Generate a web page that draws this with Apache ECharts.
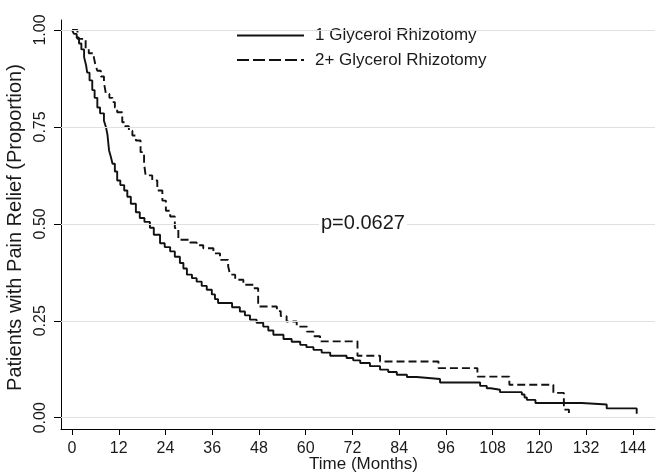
<!DOCTYPE html>
<html><head><meta charset="utf-8">
<script src="https://cdn.jsdelivr.net/npm/echarts@6/dist/echarts.min.js"></script>
<style>html,body{margin:0;padding:0;background:#fff}#c{width:658px;height:473px}</style>
</head><body><div id="c"></div>
<script>
const seriesNames = ['1 Glycerol Rhizotomy', '2+ Glycerol Rhizotomy'];

const months1 = [0,0.5,1.2,1.8,2.4,3.1,3.6,3.9,4.5,5.2,5.8,6.5,7.2,8.2,8.7,9.1,9.3,9.5,10.0,10.4,11.0,11.6,12.4,13.4,14.2,15.1,16.4,17.4,18.6,20.0,21.0,22.6,23.8,25.2,26.4,27.7,28.6,29.5,30.8,32.0,33.3,34.6,35.9,36.7,37.5,41.1,43.1,44.4,45.7,47.4,49.1,50.4,51.7,54.3,56.4,58.6,60.2,62.0,64.1,66.3,70.5,72.2,74.0,76.5,79.1,81.2,83.4,86.0,88.5,94.5,104.8,106.5,107.5,109.9,115.5,116.2,116.8,119.0,130.9,137.3,145];
const relief1 = [1.0,0.99,0.98,0.965,0.95,0.93,0.91,0.89,0.87,0.845,0.825,0.80,0.785,0.766,0.75,0.73,0.71,0.69,0.672,0.655,0.635,0.612,0.60,0.586,0.57,0.552,0.53,0.515,0.505,0.49,0.472,0.45,0.44,0.429,0.415,0.399,0.385,0.369,0.36,0.351,0.34,0.33,0.318,0.306,0.296,0.285,0.274,0.264,0.253,0.245,0.235,0.225,0.214,0.203,0.196,0.188,0.182,0.175,0.168,0.16,0.154,0.148,0.141,0.133,0.124,0.118,0.111,0.105,0.10,0.091,0.082,0.076,0.072,0.066,0.06,0.052,0.046,0.038,0.034,0.024,0.010];

const months2 = [0,1.4,3.5,4.3,5.6,6.0,6.5,7.4,8.2,8.7,9.6,10.4,11.0,11.6,12.9,13.6,14.6,15.5,16.4,17.6,18.5,18.9,20.6,21.9,23.2,24.1,25.2,26.4,27.3,30.3,32.0,33.7,36.3,38.0,40.1,40.6,41.9,44.0,46.6,47.8,52.6,53.6,55.1,57.7,60.3,62.0,63.7,73.3,79.1,94.1,104.1,112.3,123.6,126.3,127.6];
const relief2 = [1.0,0.977,0.951,0.94,0.93,0.91,0.895,0.88,0.865,0.835,0.825,0.814,0.80,0.788,0.762,0.752,0.74,0.728,0.715,0.685,0.655,0.625,0.612,0.586,0.56,0.534,0.519,0.489,0.459,0.452,0.445,0.437,0.424,0.407,0.39,0.369,0.356,0.343,0.334,0.287,0.275,0.262,0.248,0.235,0.222,0.21,0.197,0.16,0.145,0.128,0.106,0.085,0.064,0.021,0];

const xTicks = [0,12,24,36,48,60,72,84,96,108,120,132,144];
const yTicks = [0,0.25,0.5,0.75,1];
const xTitle = 'Time (Months)';
const yTitle = 'Patients with Pain Relief (Proportion)';
const pValueText = 'p=0.0627';

const FONT = "'Liberation Sans', Arial, sans-serif";
const zip = (a, b) => a.map((v, i) => [v, b[i]]);

const chart = echarts.init(document.getElementById('c'), null, {renderer: 'canvas'});
chart.setOption({
  animation: false,
  backgroundColor: '#ffffff',
  textStyle: {fontFamily: FONT},
  grid: {left: 61, right: 3, top: 20, bottom: 44, containLabel: false, outerBoundsMode: 'none'},
  legend: {
    orient: 'vertical', left: 231, top: 22,
    itemWidth: 67, itemHeight: 14, itemGap: 7.5,
    selectedMode: false,
    itemStyle: {opacity: 0},
    textStyle: {fontSize: 17, color: '#1a1a1a', fontFamily: FONT, padding: [0, 0, 0, 6]},
    data: [
      {name: seriesNames[0]},
      {name: seriesNames[1], lineStyle: {type: [12, 4]}}
    ]
  },
  xAxis: {
    type: 'value', min: -2.83, max: 149.7,
    name: xTitle, nameLocation: 'middle', nameGap: 27, nameMoveOverlap: false,
    nameTextStyle: {fontSize: 17, color: '#1a1a1a', fontFamily: FONT, padding: [0, 0, 0, 11]},
    axisLine: {show: true, onZero: false, lineStyle: {color: '#000', width: 1}},
    axisTick: {show: true, customValues: xTicks, length: 6, lineStyle: {color: '#000', width: 1}},
    axisLabel: {customValues: xTicks, fontSize: 16, color: '#1a1a1a', margin: 12, fontFamily: FONT},
    splitLine: {show: false}
  },
  yAxis: {
    type: 'value', min: -0.0291, max: 1.0258,
    name: yTitle, nameLocation: 'middle', nameGap: 32,
    nameTextStyle: {fontSize: 20, color: '#1a1a1a', fontFamily: FONT, padding: [0, 6, 0, 0]},
    axisLine: {show: true, onZero: false, lineStyle: {color: '#000', width: 1}},
    axisTick: {show: true, customValues: yTicks, length: 7, lineStyle: {color: '#000', width: 1}},
    axisLabel: {customValues: yTicks, rotate: 90, fontSize: 16, color: '#1a1a1a', margin: 12, fontFamily: FONT,
      formatter: v => Number(v).toFixed(2)},
    splitLine: {show: false}
  },
  graphic: [{
    type: 'text', left: 319, top: 213, z: 10,
    style: {text: pValueText, fontSize: 20, fill: '#1a1a1a', fontFamily: FONT,
      backgroundColor: '#ffffff', padding: [0, 2, 0, 2]}
  }],
  series: [
    {
      name: '_grid', type: 'line', data: [], silent: true, z: 1,
      markLine: {
        silent: true, symbol: 'none', label: {show: false},
        lineStyle: {color: '#e0e0e0', width: 1, type: 'solid'},
        emphasis: {disabled: true},
        data: yTicks.map(v => ({yAxis: v}))
      }
    },
    {
      name: seriesNames[0], type: 'line', step: 'end', symbol: 'none', z: 3,
      data: zip(months1, relief1),
      lineStyle: {color: '#111', width: 1.9, type: 'solid'},
      itemStyle: {color: '#111'}
    },
    {
      name: seriesNames[1], type: 'line', step: 'end', symbol: 'none', z: 3,
      data: zip(months2, relief2),
      lineStyle: {color: '#111', width: 1.9, type: [8, 4]},
      itemStyle: {color: '#111'}
    }
  ]
});
</script>
</body></html>
